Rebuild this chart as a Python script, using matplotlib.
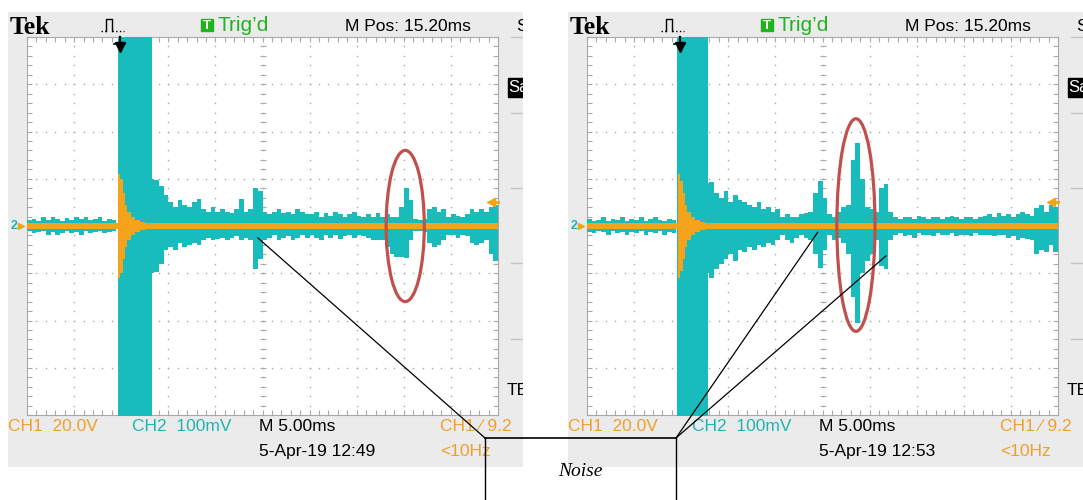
import numpy as np
import matplotlib
matplotlib.use("Agg")
import matplotlib.pyplot as plt
from matplotlib.patches import Rectangle, Ellipse, ConnectionPatch

# scope screen units: x = 0..10 divisions, y = -4..4 divisions
bin_w = 0.1

# CH2 (cyan) envelope, one value per 0.1 div
left_hi = [0.12, 0.15, 0.10, 0.18, 0.12, 0.20, 0.15, 0.10, 0.16, 0.12,
           0.18, 0.14, 0.20, 0.12, 0.15, 0.18, 0.10, 0.15, 0.12, 0.00,
           0.00, 0.00, 0.00, 0.00, 0.00, 0.00, 1.00, 0.98, 0.85, 0.65,
           0.50, 0.40, 0.55, 0.45, 0.40, 0.50, 0.57, 0.35, 0.30, 0.40,
           0.30, 0.35, 0.30, 0.28, 0.35, 0.57, 0.30, 0.35, 0.80, 0.75,
           0.30, 0.25, 0.30, 0.35, 0.28, 0.30, 0.25, 0.35, 0.30, 0.25,
           0.25, 0.30, 0.20, 0.28, 0.22, 0.30, 0.25, 0.20, 0.25, 0.30,
           0.22, 0.20, 0.25, 0.20, 0.28, 0.20, 0.25, 0.20, 0.20, 0.40,
           0.80, 0.55, 0.15, 0.12, 0.15, 0.35, 0.40, 0.30, 0.35, 0.20,
           0.25, 0.22, 0.20, 0.25, 0.35, 0.30, 0.35, 0.30, 0.40, 0.45]
left_lo = [-0.10, -0.15, -0.12, -0.10, -0.18, -0.12, -0.20, -0.15, -0.10, -0.14,
           -0.12, -0.18, -0.10, -0.15, -0.12, -0.10, -0.15, -0.12, -0.10, 0.00,
           0.00, 0.00, 0.00, 0.00, 0.00, 0.00, -1.00, -0.97, -0.80, -0.50,
           -0.45, -0.50, -0.35, -0.45, -0.40, -0.35, -0.40, -0.30, -0.25, -0.30,
           -0.28, -0.25, -0.30, -0.25, -0.22, -0.30, -0.25, -0.30, -0.90, -0.70,
           -0.30, -0.25, -0.20, -0.30, -0.25, -0.22, -0.30, -0.25, -0.20, -0.25,
           -0.20, -0.25, -0.30, -0.20, -0.25, -0.20, -0.28, -0.22, -0.20, -0.25,
           -0.20, -0.22, -0.25, -0.30, -0.30, -0.30, -0.45, -0.60, -0.65, -0.65,
           -0.67, -0.30, -0.10, -0.10, -0.12, -0.35, -0.45, -0.40, -0.30, -0.20,
           -0.20, -0.25, -0.20, -0.22, -0.35, -0.40, -0.35, -0.30, -0.60, -0.75]

right_hi = [0.15, 0.10, 0.12, 0.18, 0.10, 0.14, 0.12, 0.20, 0.10, 0.15,
            0.12, 0.18, 0.10, 0.15, 0.20, 0.12, 0.10, 0.15, 0.12, 0.00,
            0.00, 0.00, 0.00, 0.00, 0.00, 0.90, 0.93, 0.70, 0.60, 0.75,
            0.50, 0.65, 0.55, 0.50, 0.45, 0.40, 0.50, 0.35, 0.40, 0.30,
            0.35, 0.20, 0.25, 0.20, 0.18, 0.25, 0.28, 0.30, 0.70, 0.95,
            0.60, 0.25, 0.20, 0.30, 0.40, 0.45, 1.40, 1.76, 1.00, 0.40,
            0.35, 0.30, 0.80, 0.88, 0.30, 0.20, 0.15, 0.18, 0.20, 0.15,
            0.22, 0.18, 0.15, 0.20, 0.18, 0.15, 0.20, 0.22, 0.18, 0.15,
            0.20, 0.18, 0.15, 0.20, 0.22, 0.25, 0.20, 0.28, 0.22, 0.25,
            0.20, 0.25, 0.30, 0.25, 0.22, 0.38, 0.45, 0.30, 0.45, 0.40]
right_lo = [-0.12, -0.15, -0.10, -0.12, -0.18, -0.10, -0.15, -0.12, -0.20, -0.12,
            -0.15, -0.10, -0.18, -0.12, -0.15, -0.10, -0.20, -0.12, -0.15, 0.00,
            0.00, 0.00, 0.00, 0.00, 0.00, -1.00, -1.10, -0.90, -0.80, -0.70,
            -0.60, -0.75, -0.50, -0.55, -0.45, -0.50, -0.40, -0.45, -0.35, -0.40,
            -0.30, -0.20, -0.30, -0.35, -0.25, -0.20, -0.25, -0.30, -0.60, -0.88,
            -0.50, -0.20, -0.30, -0.25, -0.35, -0.60, -1.50, -2.05, -1.00, -0.75,
            -0.60, -0.30, -0.85, -0.92, -0.30, -0.20, -0.15, -0.22, -0.18, -0.25,
            -0.15, -0.20, -0.18, -0.22, -0.15, -0.20, -0.18, -0.15, -0.22, -0.20,
            -0.18, -0.22, -0.15, -0.20, -0.18, -0.20, -0.22, -0.18, -0.20, -0.25,
            -0.22, -0.30, -0.25, -0.28, -0.30, -0.60, -0.50, -0.55, -0.40, -0.55]

# saturated CH2 burst (start, end) in divisions
left_burst = (1.93, 2.65)
right_burst = (1.91, 2.57)

# CH1 (orange) spike at the trigger
spike_t = [1.93, 1.98, 2.03, 2.08, 2.13, 2.20, 2.30, 2.40, 2.50]
left_spike = [1.10, 1.00, 0.70, 0.45, 0.30, 0.20, 0.12, 0.08]
right_spike = [1.10, 0.95, 0.70, 0.45, 0.30, 0.20, 0.12, 0.08]

left_stamp = "5-Apr-19 12:49"
right_stamp = "5-Apr-19 12:53"

# circled event: (centre x, centre y, width, height) in divisions
left_circle = (8.03, 0.0, 0.81, 3.2)
right_circle = (5.71, 0.02, 0.81, 4.5)
# noise points the callout lines go to
left_noise = [(4.9, -0.25)]
right_noise = [(4.9, -0.13), (6.35, -0.63)]

CYAN = '#18bcbc'
ORANGE = '#f5a31a'
OTXT = '#f0a028'
CTXT = '#1fb4b4'
GREEN = '#1fb41f'
GRID = '#a9a9a9'
RED = '#c0504d'
SCOPE = ['Liberation Sans', 'DejaVu Sans']
SERIF = ['Liberation Serif', 'DejaVu Serif']

W, H = 1083, 500
fig = plt.figure(figsize=(W / 100, H / 100), dpi=100)


def box(x, y, w, h):
    return [x / W, 1 - (y + h) / H, w / W, h / H]


def panel(dx, hi, lo, burst, spike, circle, stamp):
    bg = fig.add_axes(box(8 + dx, 12, 515, 455))
    bg.set_xlim(8 + dx, 523 + dx)
    bg.set_ylim(467, 12)
    bg.set_facecolor('#ebebeb')
    bg.set_xticks([])
    bg.set_yticks([])
    for s in bg.spines.values():
        s.set_visible(False)

    def txt(x, y, s, **kw):
        kw.setdefault('family', SCOPE)
        kw.setdefault('fontsize', 12.5)
        kw.setdefault('va', 'center')
        bg.text(x + dx, y, s, clip_on=True, **kw)

    txt(10, 27, 'Tek', family=SERIF, fontweight='bold', fontsize=18.5)
    # trigger type icon
    bg.plot([101 + dx, 106 + dx], [31, 31], color='k', lw=1, ls=':')
    bg.plot([106 + dx, 106 + dx, 112 + dx, 112 + dx], [31, 19, 19, 31], color='k', lw=1)
    bg.plot([112 + dx, 124 + dx], [31, 31], color='k', lw=1, ls=':')
    bg.add_patch(Rectangle((201 + dx, 19), 12, 12, color=GREEN))
    txt(207, 25.5, 'T', color='white', fontsize=9.5, ha='center', fontweight='bold')
    txt(218, 25, "Trig\u2019d", color=GREEN, fontsize=15)
    txt(345, 26, 'M Pos: 15.20ms')
    txt(516, 26, 'S')
    for y in [37, 113, 188, 263, 339]:
        bg.plot([511 + dx, 523 + dx], [y, y], color='#c4c4c4', lw=1)
    bg.add_patch(Rectangle((508 + dx, 78), 17, 19, color='black'))
    txt(508.5, 87.5, 'Sa', color='white', fontsize=12)
    txt(507, 390, 'TE')
    txt(11, 226, '2', color=CTXT, fontsize=9, fontweight='bold')
    bg.plot([21 + dx], [226], marker='>', ms=5, color=ORANGE)

    txt(8, 426, 'CH1  20.0V', color=OTXT)
    txt(132, 426, 'CH2  100mV', color=CTXT)
    txt(259, 426, 'M 5.00ms')
    txt(259, 451.5, stamp)
    txt(440, 426, 'CH1 \u2044 9.2', color=OTXT)
    txt(440, 451.5, '<10Hz', color=OTXT)

    ax = fig.add_axes(box(27 + dx, 37, 471, 378))
    ax.set_xlim(0, 10)
    ax.set_ylim(-4, 4)
    ax.set_facecolor('white')
    fx = np.arange(0, 10.01, 0.2)
    fy = np.arange(-4, 4.01, 0.2)
    ax.set_xticks(fx)
    ax.set_yticks(fy)
    ax.tick_params(direction='in', length=3.5, width=0.8, colors=GRID,
                   top=True, right=True, labelbottom=False, labelleft=False)
    for s in ax.spines.values():
        s.set_color(GRID)
        s.set_linewidth(0.8)

    gx, gy = np.meshgrid(np.arange(1, 10), fy)
    ax.scatter(gx.ravel(), gy.ravel(), s=1.3, c=GRID, lw=0, zorder=1)
    gx, gy = np.meshgrid(fx, np.arange(-3, 4))
    ax.scatter(gx.ravel(), gy.ravel(), s=1.3, c=GRID, lw=0, zorder=1)
    ax.plot(np.full_like(fy, 5.0), fy, ls='none', marker='_', ms=4, mew=0.8, color=GRID, zorder=1)
    ax.plot(fx, np.zeros_like(fx), ls='none', marker='|', ms=4, mew=0.8, color=GRID, zorder=1)

    edges = np.arange(len(hi) + 1) * bin_w
    ax.fill_between(edges, lo + [lo[-1]], hi + [hi[-1]], step='post',
                    color=CYAN, lw=0, zorder=3)
    ax.fill_between(burst, -5, 5, color=CYAN, lw=0, zorder=3)
    ax.fill_between([0, 10], -0.055, 0.055, color=ORANGE, lw=0, zorder=4)
    amp = np.array(spike + [spike[-1]])
    ax.fill_between(spike_t, -amp, amp, step='post', color=ORANGE, lw=0, zorder=4)

    # trigger position and level markers
    ax.plot([1.97], [3.78], marker='v', ms=7, color='k', clip_on=False, zorder=6)
    ax.plot([1.97, 1.97], [3.78, 4.0], color='k', lw=1.6, clip_on=False, zorder=6)
    ax.plot([1.85, 2.09], [3.86, 3.86], color='k', lw=1.2, clip_on=False, zorder=6)
    ax.plot([9.86], [0.5], marker='<', ms=6, color=ORANGE, clip_on=False, zorder=6)
    ax.plot([9.86, 10.0], [0.5, 0.5], color=ORANGE, lw=2, clip_on=False, zorder=6)

    cx, cy, w, h = circle
    ax.add_patch(Ellipse((cx, cy), w, h, fill=False, ec=RED, lw=2.3,
                         zorder=7, clip_on=False))
    return ax


ax_l = panel(0, left_hi, left_lo, left_burst, left_spike, left_circle, left_stamp)
ax_r = panel(560, right_hi, right_lo, right_burst, right_spike, right_circle, right_stamp)

ov = fig.add_axes([0, 0, 1, 1], zorder=10)
ov.set_xlim(0, W)
ov.set_ylim(H, 0)
ov.axis('off')
ov.plot([485, 676], [438, 438], color='k', lw=1.2)
ov.plot([485, 485], [438, 500], color='k', lw=1)
ov.plot([676, 676], [438, 500], color='k', lw=1)
ov.text(580, 472, 'Noise', fontsize=14, style='italic', ha='center', va='center',
        family=SERIF)

for ax, corner, pts in [(ax_l, (485, 438), left_noise), (ax_r, (676, 438), right_noise)]:
    for p in pts:
        cp = ConnectionPatch(xyA=p, coordsA=ax.transData, xyB=corner,
                             coordsB=ov.transData, color='k', lw=0.9, zorder=20)
        fig.add_artist(cp)

fig.savefig('out.png', dpi=100, facecolor='white')
